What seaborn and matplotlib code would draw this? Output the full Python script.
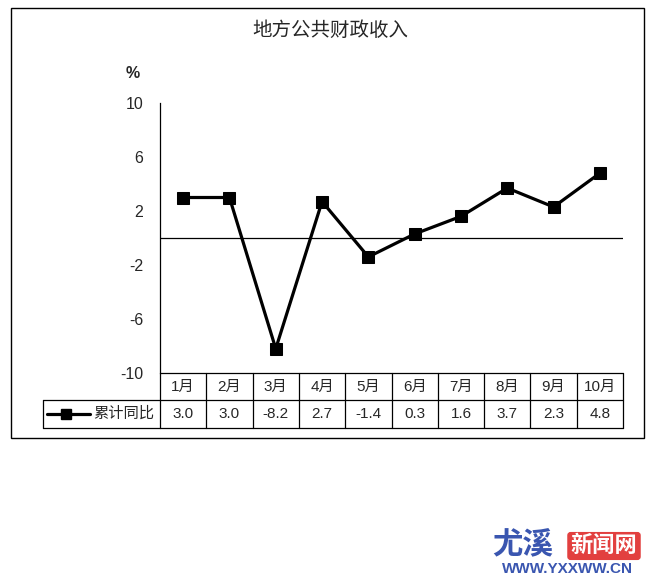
import matplotlib
matplotlib.use("Agg")
import matplotlib.pyplot as plt
from matplotlib.patches import Rectangle
from matplotlib.lines import Line2D
import seaborn as sns
import pandas as pd

months = ["1月", "2月", "3月", "4月", "5月", "6月", "7月", "8月", "9月", "10月"]
values = [3.0, 3.0, -8.2, 2.7, -1.4, 0.3, 1.6, 3.7, 2.3, 4.8]
value_labels = ["3.0", "3.0", "-8.2", "2.7", "-1.4", "0.3", "1.6", "3.7", "2.3", "4.8"]
series_name = "累计同比"
title = "地方公共财政收入"
y_ticks = [-10, -6, -2, 2, 6, 10]

sns.set_style("white")
plt.rcParams["font.family"] = ["Liberation Sans", "Noto Sans CJK SC", "DejaVu Sans"]

W, H = 658, 577
fig = plt.figure(figsize=(W / 100, H / 100), dpi=100)

def fx(px):
    return px / W

def fy(py):
    return 1 - py / H

# outer frame
fig.patches.append(Rectangle((fx(11), fy(438)), fx(644) - fx(11), fy(8) - fy(438),
                             transform=fig.transFigure, fill=False, edgecolor="black", linewidth=1))

left, right, top, bottom = 160, 623, 103, 373
ax = fig.add_axes([fx(left), fy(bottom), fx(right) - fx(left), fy(top) - fy(bottom)])
df = pd.DataFrame({"x": range(len(months)), "v": values})
sns.lineplot(data=df, x="x", y="v", ax=ax, color="black", linewidth=2.3,
             marker="s", markersize=8, markeredgecolor="black", markerfacecolor="black")
ax.axhline(0, color="black", linewidth=0.9)
ax.set_xlim(-0.5, len(months) - 0.5)
ax.set_ylim(-10, 10)
ax.set_yticks(y_ticks)
ax.set_yticklabels([str(t) for t in y_ticks], fontsize=11.5)
ax.set_xticks([])
ax.set_xlabel("")
ax.set_ylabel("")
for s in ["top", "right", "bottom"]:
    ax.spines[s].set_visible(False)
ax.spines["left"].set_color("black")
ax.spines["left"].set_linewidth(0.9)
ax.tick_params(axis="y", direction="out", length=3, width=0.9, color="black", pad=9)
ax.set_facecolor("white")

fig.text(fx(330), fy(31), title, ha="center", va="center", fontsize=14)
fig.text(fx(133), fy(73), "%", ha="center", va="center", fontsize=11.5, fontweight="bold")

# data table
tb_top, tb_mid, tb_bot = 373, 400, 428
tax = fig.add_axes([fx(left), fy(tb_bot), fx(right) - fx(left), fy(tb_top) - fy(tb_bot)])
tax.set_xlim(-0.5, len(months) - 0.5)
tax.set_ylim(0, 1)
tax.axis("off")
n = len(months)
mid = (tb_bot - tb_mid) / (tb_bot - tb_top)
lw = 0.9
for i in range(n + 1):
    tax.plot([i - 0.5, i - 0.5], [0, 1], color="black", linewidth=lw, clip_on=False)
tax.plot([-0.5, n - 0.5], [1, 1], color="black", linewidth=lw, clip_on=False)
tax.plot([-0.5, n - 0.5], [0, 0], color="black", linewidth=lw, clip_on=False)
col_w = (right - left) / n
xl = -0.5 - (left - 43) / col_w
tax.plot([xl, n - 0.5], [mid, mid], color="black", linewidth=lw, clip_on=False)
tax.plot([xl, xl], [0, mid], color="black", linewidth=lw, clip_on=False)
tax.plot([xl, -0.5], [0, 0], color="black", linewidth=lw, clip_on=False)
for i, (m, v) in enumerate(zip(months, value_labels)):
    tax.text(i, (1 + mid) / 2, m, ha="center", va="center", fontsize=11)
    tax.text(i, mid / 2, v, ha="center", va="center", fontsize=11)

# legend key in table
lx0 = -0.5 - (left - 47) / col_w
lx1 = -0.5 - (left - 90) / col_w
lxm = -0.5 - (left - 66) / col_w
tax.add_line(Line2D([lx0, lx1], [mid / 2, mid / 2], color="black", linewidth=2.3, clip_on=False))
tax.add_line(Line2D([lxm], [mid / 2], color="black", marker="s", markersize=7, clip_on=False))
tax.text(-0.5 - (left - 93) / col_w, mid / 2, series_name, ha="left", va="center", fontsize=11)

# watermark
fig.text(fx(492), fy(546), "尤溪", ha="left", va="center", fontsize=22, fontweight="bold",
         color="#3a56b0")
fig.text(fx(604), fy(546), "新闻网", ha="center", va="center", fontsize=16, fontweight="bold",
         color="white",
         bbox=dict(boxstyle="round,pad=0.12", facecolor="#e2403f", edgecolor="#e2403f"))
fig.text(fx(567), fy(569), "WWW.YXXWW.CN", ha="center", va="center", fontsize=11,
         fontweight="bold", color="#3a56b0")

fig.savefig("out.png", dpi=100, facecolor="white")
